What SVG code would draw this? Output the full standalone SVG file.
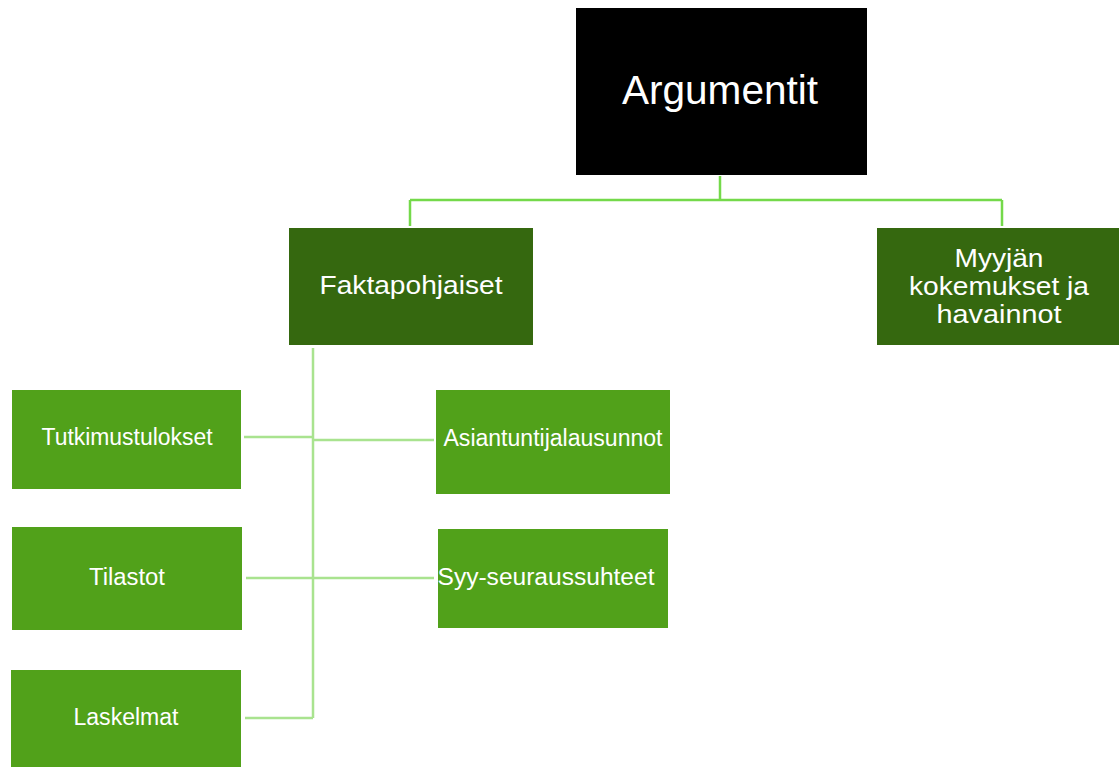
<svg xmlns="http://www.w3.org/2000/svg" width="1119" height="767" viewBox="0 0 1119 767">
<style>
.t{font-family:"Liberation Sans",Arial,sans-serif;fill:#ffffff;text-anchor:middle;dominant-baseline:central}
.s{font-size:23px}
.dark{fill:#35680f}
.lite{fill:#51a11a}
.c1{stroke:#74d94a;stroke-width:2.5;fill:none}
.c2{stroke:#a9e38f;stroke-width:2.5;fill:none}
</style>
<rect width="1119" height="767" fill="#ffffff"/>
<g id="connectors">
<path class="c1" d="M720 176V200M410 200H1002M410 200V226M1002 200V226"/>
<path class="c2" d="M313 348V718M244 437H313M313 440H434M246 578H434M245 718H313"/>
</g>
<g id="argumentit">
<rect x="576" y="8" width="291" height="167" fill="#000000"/>
<text class="t" x="720" y="90" font-size="40" textLength="196" lengthAdjust="spacingAndGlyphs">Argumentit</text>
</g>
<g id="faktapohjaiset">
<rect class="dark" x="289" y="228" width="244" height="117"/>
<text class="t" x="411" y="285" font-size="25" textLength="183" lengthAdjust="spacingAndGlyphs">Faktapohjaiset</text>
</g>
<g id="myyjan">
<rect class="dark" x="877" y="228" width="242" height="117"/>
<text class="t" x="999" y="258" font-size="25" textLength="89" lengthAdjust="spacingAndGlyphs">Myyjän</text>
<text class="t" x="999" y="286" font-size="25" textLength="180" lengthAdjust="spacingAndGlyphs">kokemukset ja</text>
<text class="t" x="999" y="314" font-size="25" textLength="125" lengthAdjust="spacingAndGlyphs">havainnot</text>
</g>
<g id="tutkimustulokset">
<rect class="lite" x="12" y="390" width="229" height="99"/>
<text class="t s" x="127" y="437" textLength="171" lengthAdjust="spacingAndGlyphs">Tutkimustulokset</text>
</g>
<g id="asiantuntijalausunnot">
<rect class="lite" x="436" y="390" width="234" height="104"/>
<text class="t s" x="553" y="438" textLength="219" lengthAdjust="spacingAndGlyphs">Asiantuntijalausunnot</text>
</g>
<g id="tilastot">
<rect class="lite" x="12" y="527" width="230" height="103"/>
<text class="t s" x="127" y="577" textLength="76" lengthAdjust="spacingAndGlyphs">Tilastot</text>
</g>
<g id="syy">
<rect class="lite" x="438" y="529" width="230" height="99"/>
<text class="t s" x="546" y="577" textLength="217" lengthAdjust="spacingAndGlyphs">Syy-seuraussuhteet</text>
</g>
<g id="laskelmat">
<rect class="lite" x="11" y="670" width="230" height="97"/>
<text class="t s" x="126" y="717" textLength="105" lengthAdjust="spacingAndGlyphs">Laskelmat</text>
</g>
</svg>
